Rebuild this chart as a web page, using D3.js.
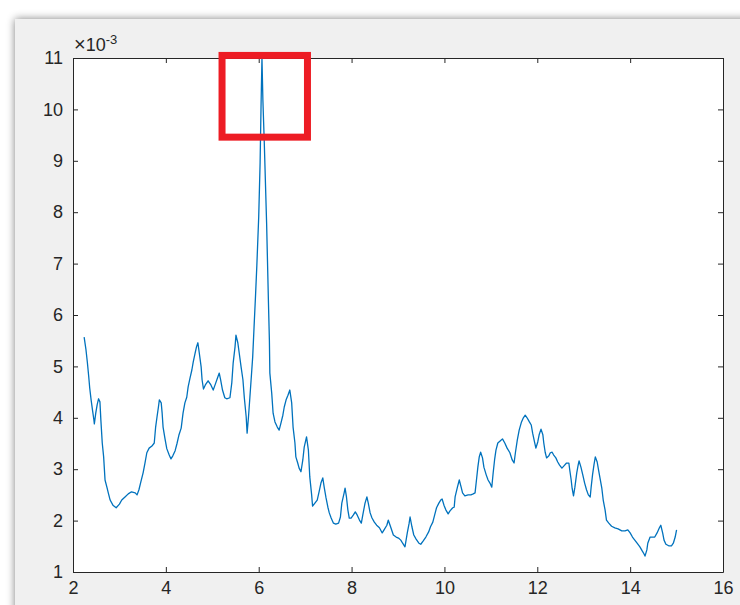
<!DOCTYPE html>
<html>
<head>
<meta charset="utf-8">
<script src="https://cdn.jsdelivr.net/npm/d3@7"></script>
<style>
body { margin: 0; background: #fff; }
</style>
</head>
<body>
<script>
var svgWidth = 740;
var svgHeight = 605;

// x values of the trace
var xVals = [2.24,2.28,2.31,2.34,2.36,2.39,2.42,2.45,2.46,2.49,2.52,2.55,2.58,2.60,2.63,2.66,2.69,2.73,2.76,2.80,
  2.86,2.93,3.00,3.05,3.12,3.19,3.26,3.34,3.38,3.42,3.46,3.51,3.55,3.59,3.64,3.70,3.75,3.78,3.81,3.84,
  3.86,3.90,3.92,3.94,3.98,4.02,4.07,4.11,4.15,4.20,4.24,4.28,4.33,4.37,4.41,4.45,4.48,4.52,4.56,4.59,
  4.63,4.66,4.69,4.72,4.76,4.78,4.81,4.85,4.91,4.97,5.02,5.06,5.11,5.15,5.18,5.22,5.27,5.31,5.38,5.42,
  5.45,5.49,5.51,5.55,5.58,5.62,5.66,5.69,5.73,5.75,5.78,5.81,5.84,5.87,5.90,5.93,5.96,6.00,6.03,6.05,
  6.07,6.09,6.12,6.17,6.21,6.23,6.24,6.28,6.31,6.35,6.40,6.44,6.48,6.52,6.55,6.59,6.63,6.67,6.71,6.74,
  6.78,6.80,6.84,6.87,6.91,6.95,6.98,7.03,7.07,7.10,7.14,7.16,7.21,7.26,7.30,7.34,7.38,7.41,7.45,7.49,
  7.52,7.56,7.61,7.66,7.72,7.76,7.79,7.84,7.86,7.89,7.92,7.95,7.99,8.04,8.08,8.12,8.17,8.21,8.25,8.29,
  8.33,8.36,8.40,8.44,8.49,8.54,8.60,8.66,8.70,8.76,8.79,8.84,8.90,8.96,9.01,9.06,9.10,9.15,9.20,9.24,
  9.26,9.30,9.34,9.39,9.45,9.49,9.54,9.60,9.66,9.70,9.75,9.79,9.83,9.88,9.92,9.95,9.99,10.03,10.08,10.12,
  10.18,10.21,10.23,10.28,10.32,10.36,10.39,10.44,10.51,10.57,10.62,10.66,10.69,10.72,10.75,10.78,10.82,10.85,10.90,10.94,
  10.98,11.02,11.05,11.08,11.11,11.15,11.20,11.25,11.30,11.35,11.41,11.46,11.50,11.53,11.57,11.61,11.66,11.70,11.74,11.78,
  11.83,11.87,11.90,11.94,11.97,12.01,12.04,12.08,12.12,12.14,12.17,12.20,12.25,12.28,12.32,12.35,12.40,12.44,12.48,12.53,
  12.57,12.63,12.68,12.70,12.73,12.75,12.78,12.81,12.85,12.88,12.90,12.94,12.98,13.02,13.06,13.10,13.14,13.16,13.19,13.22,
  13.25,13.29,13.32,13.35,13.39,13.42,13.46,13.49,13.54,13.60,13.67,13.74,13.82,13.89,13.95,14.00,14.05,14.10,14.15,14.21,
  14.26,14.30,14.32,14.36,14.38,14.43,14.48,14.53,14.58,14.63,14.66,14.70,14.73,14.77,14.83,14.89,14.93,14.97,15.00];

// y values, in units of 1e-3
var yVals = [5.57,5.32,5.07,4.79,4.58,4.35,4.15,3.96,3.88,4.09,4.25,4.37,4.31,3.96,3.51,3.24,2.79,2.65,2.54,2.40,
  2.30,2.25,2.32,2.40,2.46,2.52,2.56,2.54,2.50,2.60,2.75,2.93,3.12,3.32,3.41,3.45,3.51,3.82,4.02,4.21,
  4.35,4.29,4.09,3.82,3.60,3.40,3.28,3.20,3.26,3.36,3.50,3.66,3.80,4.09,4.29,4.40,4.60,4.77,4.93,5.09,
  5.26,5.38,5.46,5.26,4.99,4.74,4.56,4.64,4.72,4.64,4.54,4.64,4.77,4.87,4.74,4.54,4.39,4.37,4.39,4.68,
  5.07,5.38,5.61,5.46,5.26,4.99,4.74,4.39,4.02,3.70,4.02,4.40,4.79,5.18,5.77,6.35,6.97,7.91,8.96,10.05,
  11.00,10.18,9.35,7.79,6.23,5.51,4.87,4.48,4.09,3.92,3.82,3.76,3.90,4.05,4.21,4.35,4.44,4.54,4.29,3.82,
  3.51,3.24,3.12,3.02,2.95,3.18,3.43,3.63,3.37,2.85,2.50,2.28,2.34,2.40,2.56,2.73,2.83,2.65,2.44,2.26,
  2.15,2.05,1.95,1.93,1.95,2.07,2.34,2.54,2.63,2.46,2.21,2.05,2.05,2.11,2.17,2.11,2.01,1.95,2.15,2.34,
  2.46,2.34,2.15,2.05,1.97,1.91,1.86,1.76,1.82,1.91,2.01,1.88,1.72,1.68,1.66,1.62,1.56,1.49,1.76,1.95,
  2.07,1.88,1.72,1.64,1.56,1.54,1.60,1.68,1.78,1.88,1.97,2.11,2.25,2.34,2.40,2.42,2.30,2.21,2.13,2.19,
  2.25,2.26,2.46,2.65,2.79,2.65,2.54,2.48,2.50,2.50,2.52,2.54,2.79,3.04,3.24,3.33,3.22,3.04,2.89,2.79,
  2.73,2.65,2.93,3.18,3.37,3.51,3.55,3.59,3.51,3.41,3.32,3.18,3.12,3.33,3.57,3.76,3.92,4.00,4.05,4.00,
  3.92,3.86,3.70,3.53,3.41,3.53,3.67,3.78,3.67,3.51,3.33,3.22,3.26,3.32,3.33,3.28,3.22,3.14,3.08,3.02,
  3.06,3.12,3.12,2.98,2.79,2.63,2.48,2.65,2.93,3.08,3.16,3.04,2.89,2.73,2.60,2.50,2.46,2.65,2.89,3.08,
  3.24,3.14,2.98,2.83,2.63,2.40,2.21,2.01,1.95,1.89,1.86,1.84,1.80,1.80,1.82,1.76,1.68,1.62,1.56,1.49,
  1.41,1.35,1.31,1.43,1.56,1.68,1.68,1.68,1.76,1.86,1.91,1.76,1.62,1.54,1.51,1.51,1.56,1.68,1.82];

var xTicks = [2, 4, 6, 8, 10, 12, 14, 16];
var yTicks = [1, 2, 3, 4, 5, 6, 7, 8, 9, 10, 11];
// highlight box [x0, x1, yTop, yBottom] in data units
var boxSpan = [5.21, 7.05, 11.05, 9.46];

var plotLeft = 73, plotRight = 723, plotTop = 58, plotBottom = 572;
var axisColor = "#262626";
var font = "Arial, 'Liberation Sans', sans-serif";

var x = d3.scaleLinear().domain([2, 16]).range([plotLeft, plotRight]);
var y = d3.scaleLinear().domain([1, 11]).range([plotBottom, plotTop]);

var svg = d3.select("body")
    .append("svg")
    .attr("width", svgWidth)
    .attr("height", svgHeight);

// window frame with soft shadow
var defs = svg.append("defs");
var f = defs.append("filter").attr("id", "shadow")
    .attr("x", "-5%").attr("y", "-5%").attr("width", "110%").attr("height", "110%");
f.append("feGaussianBlur").attr("in", "SourceAlpha").attr("stdDeviation", 4);
f.append("feComponentTransfer").append("feFuncA").attr("type", "linear").attr("slope", 0.5);
var m = f.append("feMerge");
m.append("feMergeNode");
m.append("feMergeNode").attr("in", "SourceGraphic");

svg.append("rect")
    .attr("x", 15).attr("y", 19)
    .attr("width", 760).attr("height", 620)
    .attr("fill", "#f0f0f0")
    .attr("filter", "url(#shadow)");

svg.append("rect")
    .attr("x", plotLeft).attr("y", plotTop)
    .attr("width", plotRight - plotLeft).attr("height", plotBottom - plotTop)
    .attr("fill", "#fff");

function styleAxis(g) {
    g.attr("font-family", font).attr("font-size", 18);
    g.select(".domain").attr("stroke", axisColor).attr("stroke-width", 1);
    g.selectAll(".tick line").attr("stroke", axisColor);
    g.selectAll(".tick text").attr("fill", axisColor);
}

svg.append("g")
    .attr("transform", "translate(0," + plotBottom + ")")
    .call(d3.axisBottom(x).tickValues(xTicks).tickSizeInner(-5).tickSizeOuter(0).tickPadding(9))
    .call(styleAxis);

svg.append("g")
    .attr("transform", "translate(0," + plotTop + ")")
    .call(d3.axisTop(x).tickValues(xTicks).tickSizeInner(-5).tickSizeOuter(0).tickFormat(""))
    .call(styleAxis);

svg.append("g")
    .attr("transform", "translate(" + plotLeft + ",0)")
    .call(d3.axisLeft(y).tickValues(yTicks).tickSizeInner(-5).tickSizeOuter(0).tickPadding(10))
    .call(styleAxis);

svg.append("g")
    .attr("transform", "translate(" + plotRight + ",0)")
    .call(d3.axisRight(y).tickValues(yTicks).tickSizeInner(-5).tickSizeOuter(0).tickFormat(""))
    .call(styleAxis);

// exponent label
var expo = svg.append("text")
    .attr("x", plotLeft + 1)
    .attr("y", plotTop - 7)
    .attr("font-family", font)
    .attr("font-size", 18)
    .attr("fill", axisColor);
expo.append("tspan").attr("font-size", 20).attr("font-weight", 300).text("\u00d7");
expo.append("tspan").text("10");
expo.append("tspan").attr("dy", -7).attr("font-size", 13).text("-3");

var points = xVals.map(function (d, i) { return [d, yVals[i]]; });

var line = d3.line()
    .x(function (d) { return x(d[0]); })
    .y(function (d) { return y(d[1]); });

svg.append("path")
    .datum(points)
    .attr("d", line)
    .attr("fill", "none")
    .attr("stroke", "#0072bd")
    .attr("stroke-width", 1.3)
    .attr("stroke-linejoin", "round");

svg.append("rect")
    .attr("x", x(boxSpan[0]))
    .attr("y", y(boxSpan[2]))
    .attr("width", x(boxSpan[1]) - x(boxSpan[0]))
    .attr("height", y(boxSpan[3]) - y(boxSpan[2]))
    .attr("fill", "none")
    .attr("stroke", "#ed1c24")
    .attr("stroke-width", 7);
</script>
</body>
</html>
